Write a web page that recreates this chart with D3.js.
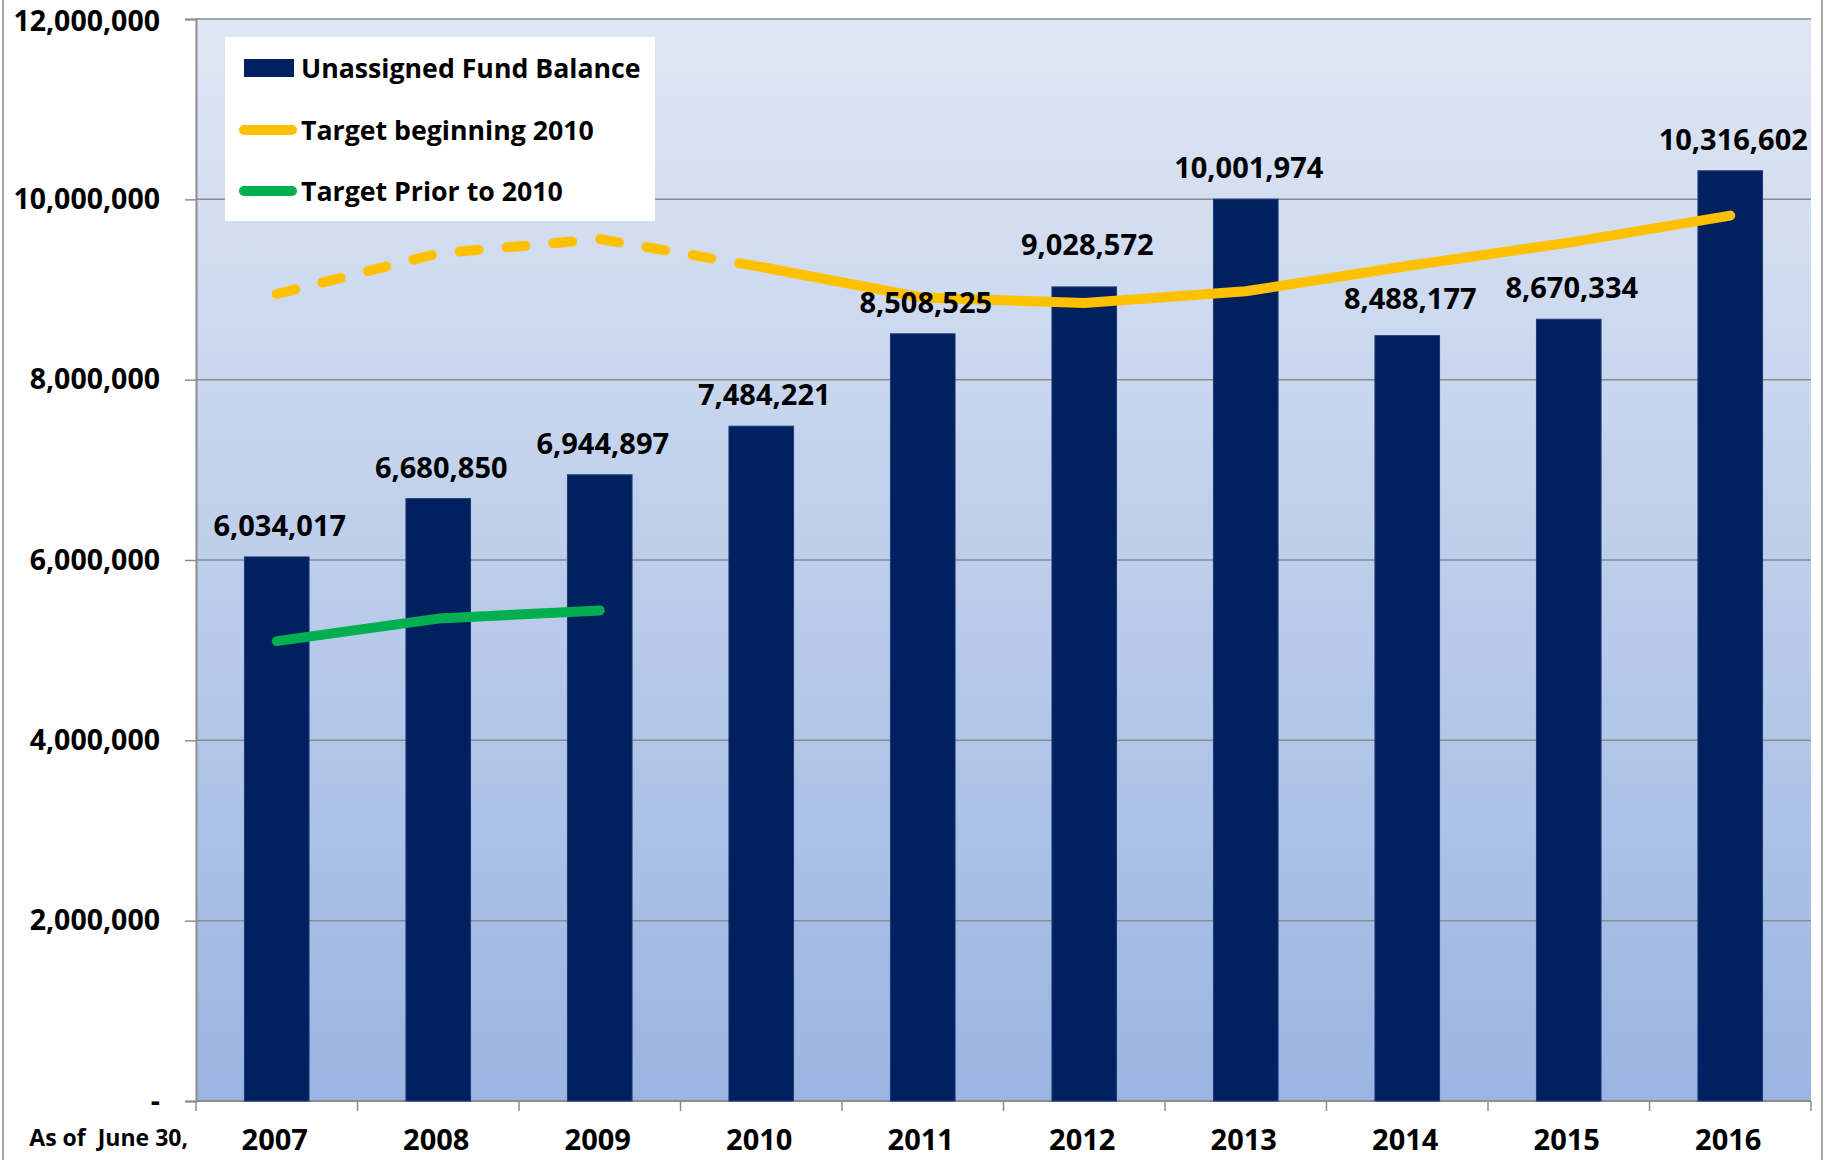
<!DOCTYPE html>
<html><head><meta charset="utf-8">
<script src="https://cdn.jsdelivr.net/npm/d3@7/dist/d3.min.js"></script>
<style>
html,body{margin:0;padding:0;background:#fff;}
text{font-family:"Open Sans",sans-serif;font-weight:700;fill:#000;}
</style></head><body>
<svg id="chart" width="1837" height="1160"></svg>
<script>
const years = ["2007","2008","2009","2010","2011","2012","2013","2014","2015","2016"];
const fundBalance = [6034017,6680850,6944897,7484221,8508525,9028572,10001974,8488177,8670334,10316602];
const targetBeginning2010 = [8950000,9400000,9560000,9250000,8910000,8850000,8980000,9260000,9520000,9820000];
const targetPrior2010 = [5100000,5350000,5440000];
const yTicks = [0,2000000,4000000,6000000,8000000,10000000,12000000];
const legendLabels = ["Unassigned Fund Balance","Target beginning 2010","Target Prior to 2010"];

const svg = d3.select("#chart");
const L = 196, R = 1811, T = 19, B = 1101;

const x = d3.scaleBand().domain(years).range([L,R]).paddingInner(0.6).paddingOuter(0.3);
const y = d3.scaleLinear().domain([0,12000000]).range([B,T]);
const cx = d => x(d) + x.bandwidth()/2;

// chart borders
svg.append("line").attr("x1",3).attr("x2",3).attr("y1",0).attr("y2",1160).attr("stroke","#a6a6a6").attr("stroke-width",2);
svg.append("line").attr("x1",1822).attr("x2",1822).attr("y1",0).attr("y2",1160).attr("stroke","#a6a6a6").attr("stroke-width",2);

const defs = svg.append("defs");
const g = defs.append("linearGradient").attr("id","bg").attr("x1",0).attr("x2",0).attr("y1",0).attr("y2",1);
g.append("stop").attr("offset","0%").attr("stop-color","#e0e7f4");
g.append("stop").attr("offset","100%").attr("stop-color","#9ab5e2");
svg.append("rect").attr("x",L).attr("y",T).attr("width",R-L).attr("height",B-T).attr("fill","url(#bg)");

// gridlines
svg.append("g").selectAll("line").data(yTicks.filter(d=>d>0)).join("line")
  .attr("x1",L).attr("x2",R).attr("y1",d=>y(d)).attr("y2",d=>y(d))
  .attr("stroke","#8c8c8c").attr("stroke-width",1.5);

// y axis
const yAxis = d3.axisLeft(y).tickValues(yTicks).tickSize(11).tickPadding(25)
  .tickFormat(d => d===0 ? "-" : d3.format(",")(d));
const ya = svg.append("g").attr("transform",`translate(${L},0)`).call(yAxis);
ya.select(".domain").attr("stroke","#8c8c8c").attr("stroke-width",2);
ya.selectAll(".tick line").attr("stroke","#8c8c8c").attr("stroke-width",1.5);
ya.selectAll(".tick text").attr("font-size",28.5).attr("font-family","Open Sans").attr("font-weight",700).attr("fill","#000")
  .attr("dy",d => d===12000000 ? "0.42em" : "0.32em");

// x axis
svg.append("line").attr("x1",L).attr("x2",R).attr("y1",B).attr("y2",B).attr("stroke","#8c8c8c").attr("stroke-width",2);
const step = x.step();
svg.append("g").selectAll("line").data(d3.range(years.length+1)).join("line")
  .attr("x1",i=>L+i*step).attr("x2",i=>L+i*step).attr("y1",B).attr("y2",B+10)
  .attr("stroke","#8c8c8c").attr("stroke-width",1.5);
svg.append("g").selectAll("text").data(years).join("text")
  .attr("x",d=>cx(d)-2).attr("y",1150).attr("text-anchor","middle").attr("font-size",29).text(d=>d);
svg.append("text").attr("x",188).attr("y",1146).attr("text-anchor","end").attr("font-size",23)
  .style("white-space","pre").text("As of  June 30,");

// bars
svg.append("g").selectAll("rect").data(years).join("rect")
  .attr("x",d=>x(d)).attr("width",x.bandwidth())
  .attr("y",(d,i)=>y(fundBalance[i])).attr("height",(d,i)=>B-y(fundBalance[i]))
  .attr("fill","#002060").attr("stroke","#1d3b78").attr("stroke-width",1);

// lines
const line = d3.line().x(d=>cx(d[0])).y(d=>y(d[1]));
const tb = years.map((d,i)=>[d,targetBeginning2010[i]]);
svg.append("path").datum(tb.slice(0,4)).attr("d",line).attr("fill","none")
  .attr("stroke","#ffc000").attr("stroke-width",10).attr("stroke-linecap","round").attr("stroke-linejoin","round")
  .attr("stroke-dasharray","19,28");
svg.append("path").datum(tb.slice(3)).attr("d",line).attr("fill","none")
  .attr("stroke","#ffc000").attr("stroke-width",10).attr("stroke-linecap","round").attr("stroke-linejoin","round");
svg.append("path").datum(targetPrior2010.map((v,i)=>[years[i],v])).attr("d",line).attr("fill","none")
  .attr("stroke","#00b050").attr("stroke-width",10).attr("stroke-linecap","round").attr("stroke-linejoin","round");

// value labels (2012 and 2014 labels sit a bit higher, as in the original)
const extraLift = d => d==="2012" ? 11 : d==="2014" ? 6 : 0;
svg.append("g").selectAll("text").data(years).join("text")
  .attr("x",d=>cx(d)+3).attr("y",(d,i)=>y(fundBalance[i])-21-extraLift(d)).attr("text-anchor","middle")
  .attr("font-size",29).text((d,i)=>d3.format(",")(fundBalance[i]));

// legend
const lg = svg.append("g");
lg.append("rect").attr("x",225).attr("y",37).attr("width",430).attr("height",184).attr("fill","#fff");
const rows = [68,130,191];
lg.append("rect").attr("x",244).attr("y",rows[0]-9).attr("width",50).attr("height",18).attr("fill","#002060");
lg.append("line").attr("x1",244).attr("x2",292).attr("y1",rows[1]).attr("y2",rows[1]).attr("stroke","#ffc000").attr("stroke-width",10).attr("stroke-linecap","round");
lg.append("line").attr("x1",244).attr("x2",292).attr("y1",rows[2]).attr("y2",rows[2]).attr("stroke","#00b050").attr("stroke-width",10).attr("stroke-linecap","round");
lg.selectAll("text.lt").data(legendLabels).join("text").attr("class","lt")
  .attr("x",301).attr("y",(d,i)=>rows[i]+10).attr("font-size",26.7).text(d=>d);
</script></body></html>
